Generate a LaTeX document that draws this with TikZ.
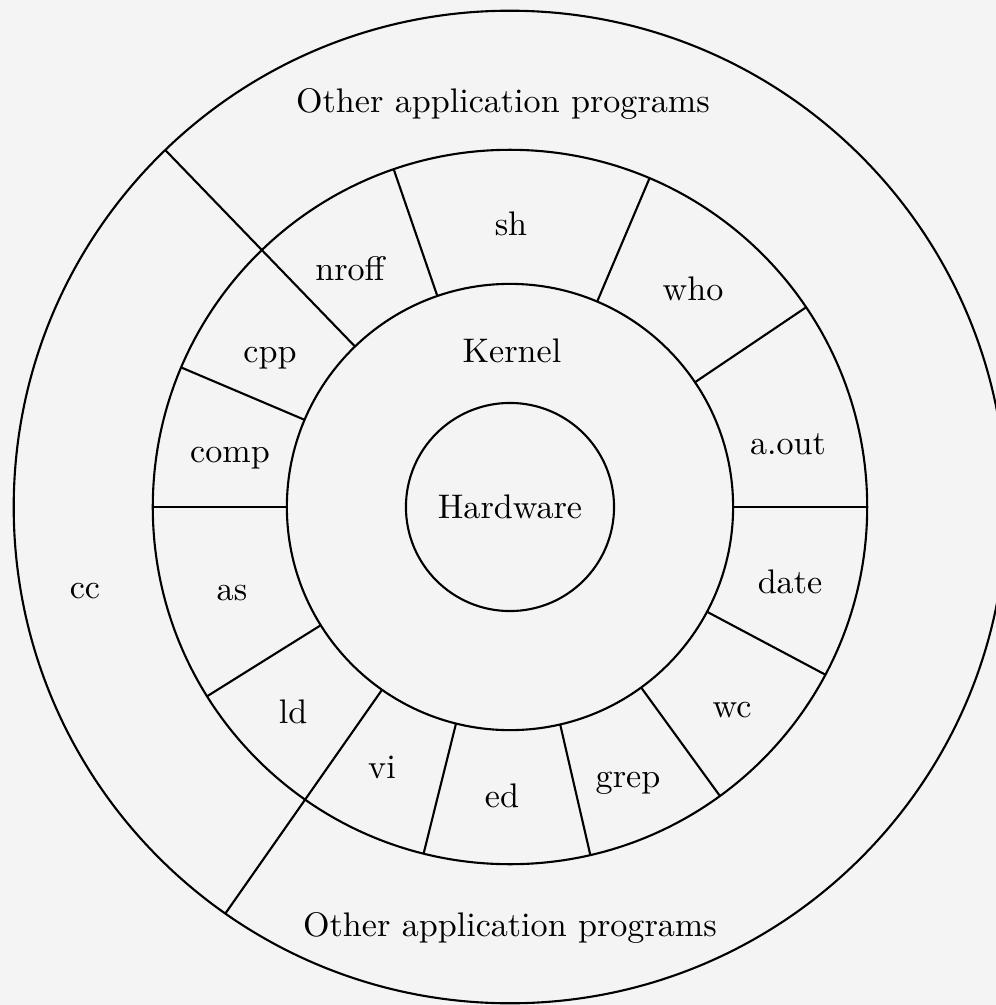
\documentclass[tikz,border=0pt]{standalone}
\definecolor{paper}{gray}{0.955}
\begin{document}
\begin{tikzpicture}[x=0.01cm,y=0.01cm,line width=0.6pt,
        ring/.style={circle,draw,inner sep=0pt,outer sep=0pt},
        lbl/.style={anchor=base,inner sep=0pt,font=\fontsize{9.7}{11.6}\selectfont}]
\useasboundingbox (-510,-498) rectangle (486,507);
\fill[paper] (-510,-498) rectangle (486,507);

\node[ring,minimum size=9.92cm] (apps) at (0,0) {};
\node[ring,minimum size=7.14cm] (shell) at (0,0) {};
\node[ring,minimum size=4.46cm] (kern) at (0,0) {};
\node[ring,minimum size=2.08cm,font=\fontsize{9.7}{11.6}\selectfont] (hw) at (0,0) {Hardware};

% spokes through the outer ring
\draw (kern.134) -- (apps.134);
\draw (kern.235.5) -- (apps.235.5);

% spokes of the utilities ring
\draw (kern.0) -- (shell.0);
\draw (kern.34) -- (shell.34);
\draw (kern.67) -- (shell.67);
\draw (kern.109) -- (shell.109);
\draw (kern.157.5) -- (shell.157.5);
\draw (kern.180) -- (shell.180);
\draw (kern.212) -- (shell.212);
\draw (kern.256.5) -- (shell.256.5);
\draw (kern.283) -- (shell.283);
\draw (kern.306) -- (shell.306);
\draw (kern.332) -- (shell.332);

\node[lbl] (ltop) at (-7,395) {Other application programs};
\node[lbl] (lbot) at (0,-429) {Other application programs};
\node[lbl] (lcc) at (-425,-91) {cc};
\node[lbl] (lkern) at (2,145) {Kernel};

\node[lbl] (lsh) at (1,272) {sh};
\node[lbl] (lwho) at (183,207) {who};
\node[lbl] (laout) at (278,53) {a.out};
\node[lbl] (ldate) at (280,-86) {date};
\node[lbl] (lwc) at (222,-210) {wc};
\node[lbl] (lgrep) at (118,-280) {grep};
\node[lbl] (led) at (-8,-300) {ed};
\node[lbl] (lvi) at (-128,-271) {vi};
\node[lbl] (lld) at (-217,-216) {ld};
\node[lbl] (las) at (-278,-93) {as};
\node[lbl] (lcomp) at (-280,45) {comp};
\node[lbl] (lcpp) at (-240,145) {cpp};
\node[lbl] (lnroff) at (-160,227) {nroff};
\end{tikzpicture}
\end{document}
